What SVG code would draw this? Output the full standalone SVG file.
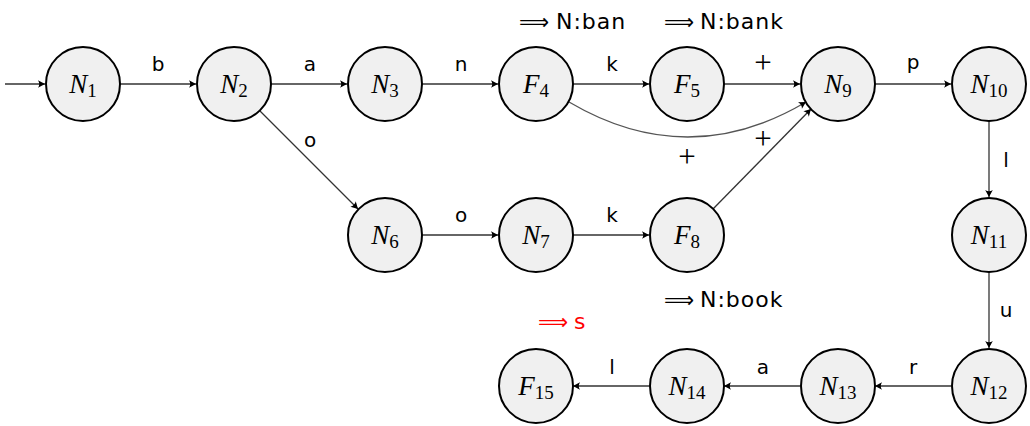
<svg xmlns="http://www.w3.org/2000/svg" width="1030" height="426" viewBox="0 0 1030 426">
<style>
.node circle{fill:#f0f0f0;stroke:#000;stroke-width:2}
.node text{font-family:"Liberation Serif",serif;font-size:27px;text-anchor:middle;fill:#000}
.node .v{font-style:italic}
.node .s{font-size:19px}
.e{stroke:#333;stroke-width:1.3;fill:none;marker-end:url(#arr)}
.lbl{font-family:"DejaVu Sans","Liberation Sans",sans-serif;font-size:20px;text-anchor:middle;fill:#000}
.pl{font-family:"Liberation Serif",serif;font-size:31px;text-anchor:middle;fill:#000}
.out{font-family:"DejaVu Sans","Liberation Sans",sans-serif;font-size:22px;letter-spacing:1px;fill:#000}
.ar{font-family:"DejaVu Sans",sans-serif;font-size:21px;fill:#000}
.red{fill:#ff0000}
</style>
<defs>
<marker id="arr" markerWidth="10" markerHeight="10" viewBox="-8 -5 10 10" refX="0" refY="0" orient="auto" markerUnits="userSpaceOnUse">
<path d="M0,0 L-7,-3.8 Q-4.5,0 -7,3.8 Z" fill="#000"/>
</marker>
</defs>
<g id="connectors">
<path class="e" d="M5,84 L45,84"/>
<path class="e" d="M120,84 L196,84"/>
<path class="e" d="M271,84 L347,84"/>
<path class="e" d="M422,84 L498,84"/>
<path class="e" d="M573,84 L649,84"/>
<path class="e" d="M724,84 L800,84"/>
<path class="e" d="M875,84 L951,84"/>
<path class="e" d="M260,111 L358,209"/>
<path class="e" d="M422,235 L498,235"/>
<path class="e" d="M573,235 L649,235"/>
<path class="e" d="M713,209 L811,109"/>
<path class="e" style="stroke:#555" d="M569,102 Q688,172 806,102"/>
<path class="e" d="M989,121 L989,197"/>
<path class="e" d="M989,272 L989,348"/>
<path class="e" d="M951,386 L875,386"/>
<path class="e" d="M800,386 L724,386"/>
<path class="e" d="M649,386 L573,386"/>
<text class="lbl" x="158" y="71">b</text>
<text class="lbl" x="310" y="71">a</text>
<text class="lbl" x="461" y="71">n</text>
<text class="lbl" x="612" y="71">k</text>
<text class="pl" x="763" y="73">+</text>
<text class="lbl" x="913" y="69">p</text>
<text class="lbl" x="310" y="147">o</text>
<text class="lbl" x="461" y="222">o</text>
<text class="lbl" x="612" y="222">k</text>
<text class="pl" x="763" y="149">+</text>
<text class="pl" x="687" y="167">+</text>
<text class="lbl" x="1006" y="167">l</text>
<text class="lbl" x="1006" y="317">u</text>
<text class="lbl" x="913" y="374">r</text>
<text class="lbl" x="763" y="374">a</text>
<text class="lbl" x="612" y="374">l</text>
</g>
<g id="outputs">
<text class="ar" x="519" y="29">⟹</text><text class="out" x="556" y="29">N:ban</text>
<text class="ar" x="664" y="29">⟹</text><text class="out" x="700" y="29">N:bank</text>
<text class="ar" x="664" y="307">⟹</text><text class="out" x="700" y="307">N:book</text>
<text class="ar red" x="538" y="329">⟹</text><text class="out red" x="574" y="329">s</text>
</g>
<g id="N1" class="node"><circle cx="83" cy="84" r="37"/><text x="83" y="93"><tspan class="v">N</tspan><tspan class="s" dy="4">1</tspan></text></g>
<g id="N2" class="node"><circle cx="234" cy="84" r="37"/><text x="234" y="93"><tspan class="v">N</tspan><tspan class="s" dy="4">2</tspan></text></g>
<g id="N3" class="node"><circle cx="385" cy="84" r="37"/><text x="385" y="93"><tspan class="v">N</tspan><tspan class="s" dy="4">3</tspan></text></g>
<g id="F4" class="node"><circle cx="536" cy="84" r="37"/><text x="536" y="93"><tspan class="v">F</tspan><tspan class="s" dy="4">4</tspan></text></g>
<g id="F5" class="node"><circle cx="687" cy="84" r="37"/><text x="687" y="93"><tspan class="v">F</tspan><tspan class="s" dy="4">5</tspan></text></g>
<g id="N9" class="node"><circle cx="838" cy="84" r="37"/><text x="838" y="93"><tspan class="v">N</tspan><tspan class="s" dy="4">9</tspan></text></g>
<g id="N10" class="node"><circle cx="989" cy="84" r="37"/><text x="989" y="93"><tspan class="v">N</tspan><tspan class="s" dy="4">10</tspan></text></g>
<g id="N6" class="node"><circle cx="385" cy="235" r="37"/><text x="385" y="244"><tspan class="v">N</tspan><tspan class="s" dy="4">6</tspan></text></g>
<g id="N7" class="node"><circle cx="536" cy="235" r="37"/><text x="536" y="244"><tspan class="v">N</tspan><tspan class="s" dy="4">7</tspan></text></g>
<g id="F8" class="node"><circle cx="687" cy="235" r="37"/><text x="687" y="244"><tspan class="v">F</tspan><tspan class="s" dy="4">8</tspan></text></g>
<g id="N11" class="node"><circle cx="989" cy="235" r="37"/><text x="989" y="244"><tspan class="v">N</tspan><tspan class="s" dy="4">11</tspan></text></g>
<g id="N12" class="node"><circle cx="989" cy="386" r="37"/><text x="989" y="395"><tspan class="v">N</tspan><tspan class="s" dy="4">12</tspan></text></g>
<g id="N13" class="node"><circle cx="838" cy="386" r="37"/><text x="838" y="395"><tspan class="v">N</tspan><tspan class="s" dy="4">13</tspan></text></g>
<g id="N14" class="node"><circle cx="687" cy="386" r="37"/><text x="687" y="395"><tspan class="v">N</tspan><tspan class="s" dy="4">14</tspan></text></g>
<g id="F15" class="node"><circle cx="536" cy="386" r="37"/><text x="536" y="395"><tspan class="v">F</tspan><tspan class="s" dy="4">15</tspan></text></g>
</svg>
